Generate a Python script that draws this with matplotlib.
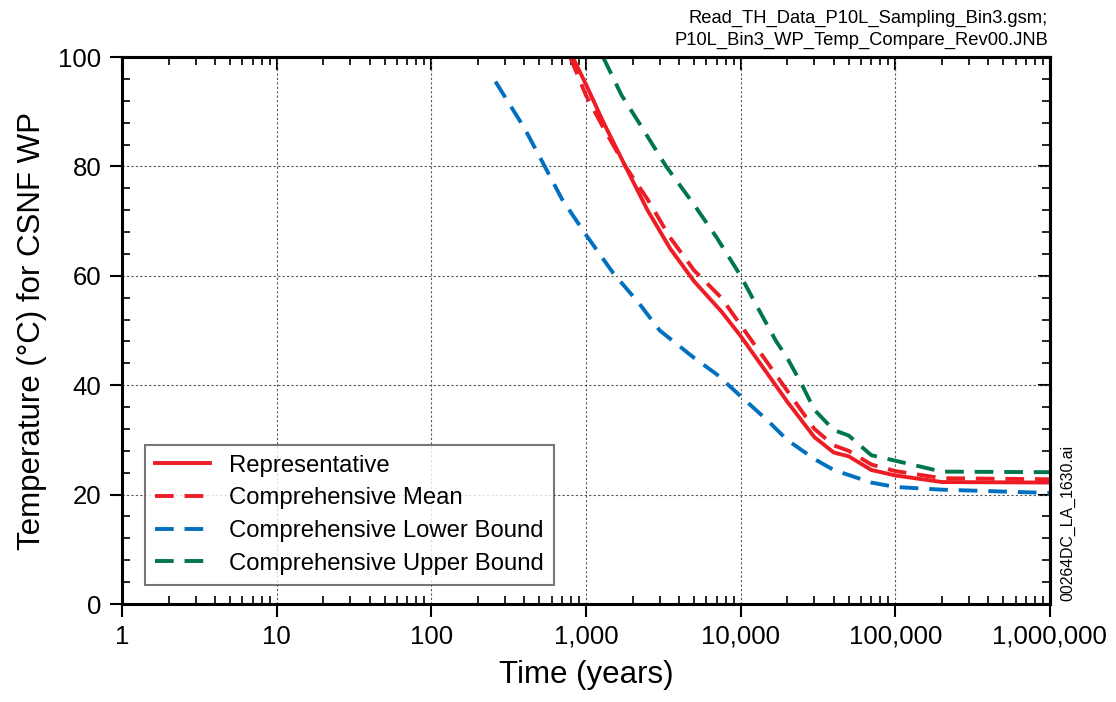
import matplotlib
matplotlib.use("Agg")
import matplotlib.pyplot as plt
from matplotlib.ticker import FuncFormatter, AutoMinorLocator, LogLocator, NullFormatter

plt.rcParams['font.family'] = ['Liberation Sans', 'DejaVu Sans']

# data (time in years, temperature in deg C)
rep_t = [820, 1000, 1300, 1800, 2500, 3500, 5000, 7500, 10000, 15000, 20000,
         30000, 40000, 50000, 70000, 100000, 200000, 1000000]
rep_T = [100, 95, 88, 80, 72, 65, 59, 53.5, 49, 42, 37,
         30.5, 27.7, 27, 24.5, 23.5, 22.3, 22.2]

mean_t = [790, 1000, 1300, 1800, 2500, 3500, 5000, 7500, 10000, 15000, 20000,
          30000, 40000, 50000, 70000, 100000, 200000, 1000000]
mean_T = [100, 93, 87, 80, 74, 67, 61, 56, 51, 44, 39,
          32, 29, 28, 25.5, 24.3, 23, 22.8]

low_t = [260, 400, 530, 700, 1000, 1500, 2200, 3000, 5000, 7000, 10000,
         15000, 20000, 30000, 40000, 70000, 100000, 200000, 1000000]
low_T = [95.5, 87, 80.5, 74, 67.5, 60.5, 55, 50, 45, 42, 38,
         33.5, 30, 26.5, 24.5, 22.2, 21.4, 20.9, 20.3]

up_t = [1290, 1700, 2200, 3300, 5000, 7000, 10000, 13000, 17000, 20000, 25000,
        30000, 40000, 50000, 70000, 100000, 200000, 1000000]
up_T = [100, 93, 88, 80, 73, 67, 60, 54, 48, 45, 40,
        35.5, 31.8, 30.8, 27.2, 26.2, 24.2, 24.1]

labels = ["Representative", "Comprehensive Mean",
          "Comprehensive Lower Bound", "Comprehensive Upper Bound"]

red = "#ee1c25"
blue = "#0070c0"
green = "#00774a"

fig = plt.figure(figsize=(11.16, 7.02), dpi=100)
ax = fig.add_axes([0.1093, 0.1396, 0.8315, 0.7792])

lw = 2.8
dash = (4.8, 2.8)
ax.plot(rep_t, rep_T, color=red, lw=lw, label=labels[0])
ax.plot(mean_t, mean_T, color=red, lw=lw, dashes=dash, label=labels[1])
ax.plot(low_t, low_T, color=blue, lw=lw, dashes=dash, label=labels[2])
ax.plot(up_t, up_T, color=green, lw=lw, dashes=dash, label=labels[3])

ax.set_xscale("log")
ax.set_xlim(1, 1e6)
ax.set_ylim(0, 100)
ax.set_yticks(range(0, 101, 20))
ax.yaxis.set_minor_locator(AutoMinorLocator(5))
ax.xaxis.set_major_locator(LogLocator(base=10, numticks=10))
ax.xaxis.set_minor_locator(LogLocator(base=10, subs=range(2, 10), numticks=100))
ax.xaxis.set_minor_formatter(NullFormatter())
ax.xaxis.set_major_formatter(FuncFormatter(lambda v, _: f"{v:,.0f}"))

ax.grid(True, which="major", color="#555555", ls=(0, (2, 2)), lw=0.8)

for s in ax.spines.values():
    s.set_linewidth(2.2)

ax.tick_params(which="major", direction="out", length=9, width=1.5,
               labelsize=18.5, pad=6)
ax.tick_params(which="minor", direction="in", length=6, width=1.2)

# inward ticks on top and right
top = ax.secondary_xaxis("top")
top.tick_params(which="major", direction="in", length=9, width=1.5, labeltop=False)
top.tick_params(which="minor", direction="in", length=6, width=1.2)
top.xaxis.set_major_locator(LogLocator(base=10, numticks=10))
top.xaxis.set_minor_locator(LogLocator(base=10, subs=range(2, 10), numticks=100))
top.xaxis.set_minor_formatter(NullFormatter())
top.spines["top"].set_linewidth(2.2)
right = ax.secondary_yaxis("right")
right.set_yticks(range(0, 101, 20))
right.yaxis.set_minor_locator(AutoMinorLocator(5))
right.tick_params(which="major", direction="in", length=9, width=1.5, labelright=False)
right.tick_params(which="minor", direction="in", length=6, width=1.2)
right.spines["right"].set_linewidth(2.2)

ax.set_xlabel("Time (years)", fontsize=22.5, labelpad=8)
ax.set_ylabel("Temperature (°C) for CSNF WP", fontsize=22.5, labelpad=8)

leg = ax.legend(loc="lower left", bbox_to_anchor=(0.025, 0.035), fontsize=17.2,
                frameon=True, fancybox=False, handlelength=2.3,
                borderpad=0.42, labelspacing=0.45, handletextpad=0.8,
                borderaxespad=0)
leg.get_frame().set_edgecolor("#555555")
leg.get_frame().set_linewidth(1.5)

fig.text(1048 / 1116, 1 - 18 / 702, "Read_TH_Data_P10L_Sampling_Bin3.gsm;",
         ha="right", va="center", fontsize=13.2)
fig.text(1048 / 1116, 1 - 40 / 702, "P10L_Bin3_WP_Temp_Compare_Rev00.JNB",
         ha="right", va="center", fontsize=13.2)
fig.text(1068 / 1116, 1 - 601 / 702, "00264DC_LA_1630.ai", rotation=90,
         ha="center", va="bottom", fontsize=11.4)

fig.savefig("out.png", dpi=100)
